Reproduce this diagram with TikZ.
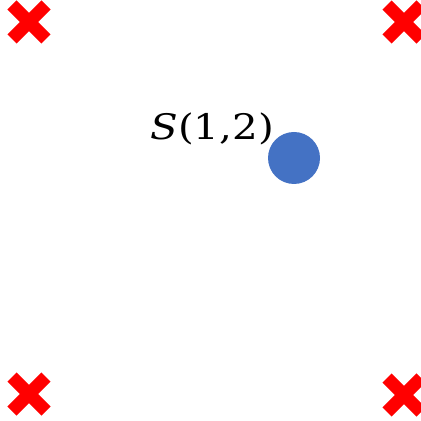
\documentclass[tikz,border=0pt]{standalone}
\usepackage{fontspec}
\usetikzlibrary{shapes.misc}
\newfontfamily\labelfont{DejaVu Serif}
\definecolor{markRed}{RGB}{255, 0, 0}
\definecolor{pointBlue}{RGB}{68, 114, 196}

\begin{document}
\begin{tikzpicture}[
    x=0.02cm, y=-0.02cm,
    corner mark/.style={cross out, draw=markRed, line width=13*0.02cm,
        minimum size=21*0.02cm, inner sep=0pt},
    sample dot/.style={circle, fill=pointBlue, minimum size=52*0.02cm,
        inner sep=0pt},
    point label/.style={font=\labelfont\fontsize{20}{23}\selectfont,
        xscale=1.15, inner sep=0pt},
]

% ---- frame (image size in px) ----
\useasboundingbox (0,0) rectangle (420,421);

% ---- corner marks ----
\node[corner mark] (markTL) at (29,22)   {};
\node[corner mark] (markTR) at (404,22)  {};
\node[corner mark] (markBL) at (29,394)  {};
\node[corner mark] (markBR) at (404,395) {};

% ---- sample point ----
\node[sample dot] (pointS) at (294,158) {};
\node[point label, anchor=base west] (labelS) at (150,140)
    {{\itshape S}(1,2)};

\end{tikzpicture}
\end{document}
